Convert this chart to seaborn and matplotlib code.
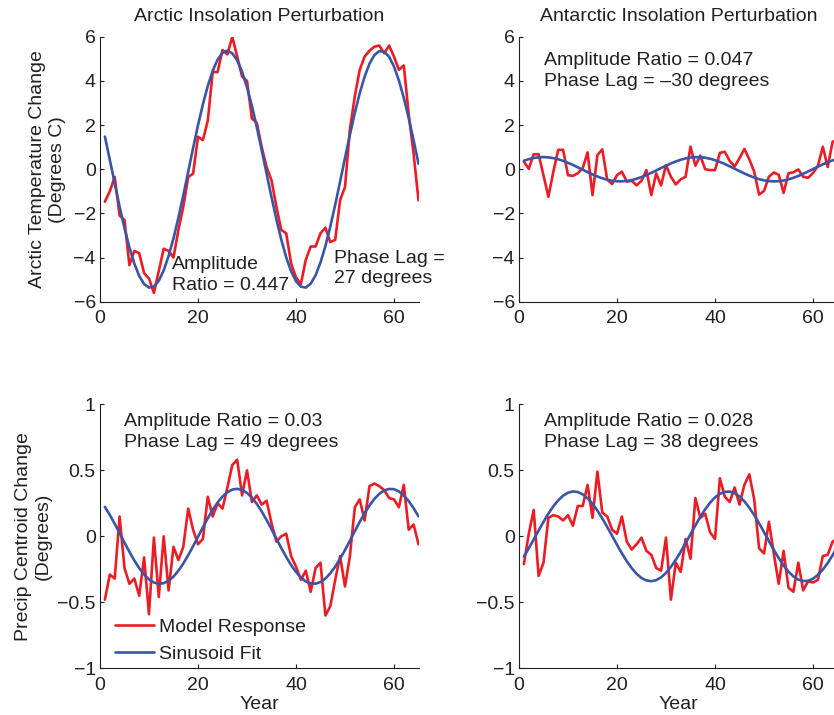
import pandas as pd
import seaborn as sns
import matplotlib
matplotlib.use("Agg")
import matplotlib.pyplot as plt

years = list(range(1, 66))

# red: model response, blue: sinusoid fit
arctic_temp_model = [-1.47, -1.0, -0.35, -2.1, -2.3, -4.34, -3.7, -3.8, -4.7, -4.95,
                     -5.6, -4.6, -3.6, -3.7, -4.0, -2.75, -1.7, -0.35, -0.2, 1.47,
                     1.32, 2.2, 4.4, 4.4, 5.4, 5.2, 6.0, 5.1, 4.2, 4.0,
                     2.3, 2.1, 1.0, 0.1, -0.5, -1.7, -2.75, -2.9, -4.26, -4.9,
                     -5.2, -4.1, -3.5, -3.5, -2.9, -2.65, -3.3, -3.2, -1.4, -0.8,
                     1.8, 3.3, 4.5, 5.1, 5.37, 5.55, 5.6, 5.25, 5.6, 5.1,
                     4.5, 4.7, 2.5, 0.7, -1.4]
arctic_temp_fit = [1.48, 0.43, -0.64, -1.69, -2.67, -3.54, -4.27, -4.83, -5.20, -5.36,
                   -5.31, -5.05, -4.58, -3.93, -3.13, -2.20, -1.18, -0.11, 0.96, 1.99,
                   2.94, 3.77, 4.46, 4.96, 5.27, 5.37, 5.25, 4.93, 4.41, 3.71,
                   2.87, 1.91, 0.87, -0.20, -1.26, -2.27, -3.19, -3.99, -4.62, -5.07,
                   -5.32, -5.36, -5.18, -4.80, -4.22, -3.48, -2.60, -1.61, -0.56, 0.51,
                   1.56, 2.55, 3.44, 4.19, 4.78, 5.17, 5.35, 5.33, 5.09, 4.65,
                   4.02, 3.23, 2.32, 1.31, 0.25]

antarctic_temp_model = [0.34, 0.02, 0.68, 0.68, -0.28, -1.25, -0.12, 0.88, 0.88, -0.27,
                        -0.30, -0.18, 0.05, 0.76, -1.17, 0.64, 0.9, -0.47, -0.67, -0.27,
                        -0.11, -0.56, -0.52, -0.73, -0.52, -0.04, -1.17, -0.19, -0.73, 0.19,
                        -0.34, -0.69, -0.46, -0.34, 1.02, 0.16, 0.62, 0.0, -0.04, -0.04,
                        0.74, 0.79, 0.38, 0.12, 0.5, 0.92, 0.45, -0.11, -1.15, -0.98,
                        -0.34, -0.15, -0.25, -1.07, -0.18, -0.14, -0.01, -0.34, -0.39, -0.17,
                        0.15, 1.02, 0.1, 1.25, 1.3]
antarctic_temp_fit = [0.387, 0.457, 0.509, 0.540, 0.550, 0.538, 0.504, 0.451, 0.379, 0.293,
                      0.194, 0.088, -0.022, -0.130, -0.234, -0.328, -0.409, -0.474, -0.520, -0.545,
                      -0.549, -0.530, -0.491, -0.432, -0.355, -0.265, -0.164, -0.056, 0.054, 0.161,
                      0.263, 0.353, 0.430, 0.490, 0.530, 0.549, 0.546, 0.521, 0.475, 0.411,
                      0.330, 0.236, 0.133, 0.024, -0.085, -0.192, -0.290, -0.377, -0.449, -0.503,
                      -0.537, -0.550, -0.541, -0.510, -0.458, -0.389, -0.304, -0.207, -0.101, 0.008,
                      0.117, 0.221, 0.317, 0.400, 0.467]

arctic_precip_model = [-0.48, -0.29, -0.32, 0.15, -0.24, -0.36, -0.32, -0.45, -0.16, -0.59,
                       -0.01, -0.46, 0.0, -0.41, -0.08, -0.18, -0.08, 0.21, 0.05, -0.06,
                       -0.02, 0.30, 0.15, 0.25, 0.21, 0.37, 0.54, 0.58, 0.31, 0.50,
                       0.26, 0.31, 0.24, 0.27, 0.10, -0.04, 0.0, 0.02, -0.15, -0.23,
                       -0.33, -0.26, -0.42, -0.24, -0.20, -0.60, -0.53, -0.33, -0.15, -0.38,
                       -0.15, 0.22, 0.28, 0.12, 0.38, 0.40, 0.38, 0.35, 0.29, 0.28,
                       0.22, 0.39, 0.05, 0.09, -0.06]
arctic_precip_fit = [0.223, 0.162, 0.095, 0.024, -0.048, -0.117, -0.183, -0.241, -0.289, -0.326,
                     -0.350, -0.360, -0.355, -0.337, -0.305, -0.261, -0.206, -0.143, -0.075, -0.003,
                     0.068, 0.137, 0.201, 0.256, 0.301, 0.334, 0.354, 0.360, 0.351, 0.329,
                     0.293, 0.246, 0.188, 0.124, 0.054, -0.018, -0.089, -0.156, -0.218, -0.270,
                     -0.312, -0.342, -0.357, -0.359, -0.346, -0.320, -0.280, -0.230, -0.170, -0.104,
                     -0.033, 0.039, 0.109, 0.175, 0.234, 0.284, 0.322, 0.348, 0.359, 0.357,
                     0.340, 0.309, 0.267, 0.213, 0.151]

antarctic_precip_model = [-0.21, 0.02, 0.20, -0.30, -0.20, 0.14, 0.16, 0.15, 0.12, 0.16,
                          0.08, 0.23, 0.23, 0.39, 0.14, 0.49, 0.18, 0.15, 0.05, 0.02,
                          0.15, -0.04, -0.10, -0.06, -0.01, -0.11, -0.14, -0.24, -0.26, -0.01,
                          -0.48, -0.20, -0.27, -0.02, -0.17, 0.29, 0.14, 0.17, 0.03, -0.02,
                          0.44, 0.30, 0.26, 0.37, 0.24, 0.39, 0.47, 0.28, -0.09, -0.13,
                          0.11, -0.13, -0.36, -0.11, -0.39, -0.42, -0.20, -0.41, -0.34, -0.35,
                          -0.33, -0.15, -0.14, -0.04, -0.02]
antarctic_precip_fit = [-0.154, -0.090, -0.024, 0.044, 0.110, 0.172, 0.227, 0.273, 0.308, 0.330,
                        0.340, 0.336, 0.318, 0.288, 0.246, 0.195, 0.136, 0.071, 0.004, -0.064,
                        -0.129, -0.189, -0.241, -0.284, -0.316, -0.334, -0.340, -0.332, -0.311, -0.277,
                        -0.232, -0.178, -0.117, -0.052, 0.016, 0.083, 0.147, 0.205, 0.255, 0.295,
                        0.322, 0.337, 0.339, 0.327, 0.302, 0.265, 0.217, 0.161, 0.099, 0.032,
                        -0.036, -0.102, -0.165, -0.221, -0.268, -0.304, -0.328, -0.339, -0.337, -0.321,
                        -0.292, -0.252, -0.202, -0.143, -0.079]

titles = ["Arctic Insolation Perturbation", "Antarctic Insolation Perturbation", "", ""]
ylabels = ["Arctic Temperature Change\n(Degrees C)", "", "Precip Centroid Change\n(Degrees)", ""]
notes = ["Amplitude\nRatio = 0.447", "Amplitude Ratio = 0.047\nPhase Lag = \u201330 degrees",
         "Amplitude Ratio = 0.03\nPhase Lag = 49 degrees", "Amplitude Ratio = 0.028\nPhase Lag = 38 degrees"]
lag_note = "Phase Lag =\n27 degrees"
temp_ticks = [-6, -4, -2, 0, 2, 4, 6]
temp_ticklabels = ["\u22126", "\u22124", "\u22122", "0", "2", "4", "6"]
precip_ticks = [-1, -0.5, 0, 0.5, 1]
precip_ticklabels = ["\u22121", "\u22120.5", "0", "0.5", "1"]
year_ticks = [0, 20, 40, 60]

RED = "#EC1C24"
BLUE = "#3A55A6"
INK = "#231F20"

sns.set_theme(style="ticks")
plt.rcParams["font.family"] = ["Liberation Sans", "DejaVu Sans"]
plt.rcParams["font.size"] = 14
plt.rcParams["text.color"] = INK
plt.rcParams["axes.labelcolor"] = INK

fig = plt.figure(figsize=(8.34, 7.15), dpi=100)
positions = [[0.1199, 0.578, 0.3819, 0.3706], [0.6223, 0.578, 0.3819, 0.3706],
             [0.1199, 0.0653, 0.3819, 0.3692], [0.6223, 0.0653, 0.3819, 0.3692]]
models = [arctic_temp_model, antarctic_temp_model, arctic_precip_model, antarctic_precip_model]
fits = [arctic_temp_fit, antarctic_temp_fit, arctic_precip_fit, antarctic_precip_fit]

for i in range(4):
    ax = fig.add_axes(positions[i])
    df = pd.DataFrame({"year": years, "model": models[i], "fit": fits[i]})
    sns.lineplot(data=df, x="year", y="model", ax=ax, color=RED, lw=1.9, label="Model Response")
    sns.lineplot(data=df, x="year", y="fit", ax=ax, color=BLUE, lw=1.9, label="Sinusoid Fit")
    ax.set_xlim(0, 65)
    ax.set_xticks(year_ticks)
    if i < 2:
        ax.set_ylim(-6, 6)
        ax.set_yticks(temp_ticks, temp_ticklabels)
        ax.set_xlabel("")
    else:
        ax.set_ylim(-1, 1)
        ax.set_yticks(precip_ticks, precip_ticklabels)
        ax.set_xlabel("Year", fontsize=14, labelpad=2)
    ax.set_ylabel(ylabels[i], fontsize=14)
    if i == 0:
        ax.yaxis.set_label_coords(-0.107, 0.5)
    if i == 2:
        ax.yaxis.set_label_coords(-0.151, 0.5)
    ax.set_title(titles[i], fontsize=14, pad=11, color=INK)
    sns.despine(ax=ax)
    for s in ["left", "bottom"]:
        ax.spines[s].set_color(INK)
        ax.spines[s].set_linewidth(0.8)
    ax.tick_params(direction="in", length=3, width=0.8, color=INK, labelsize=14,
                   labelcolor=INK)
    ax.tick_params(axis="x", pad=6)
    ax.tick_params(axis="y", pad=3)
    if i == 2:
        ax.legend(loc="upper left", bbox_to_anchor=(0.047, 0.19), frameon=False,
                  borderpad=0, borderaxespad=0, handlelength=2.0, handletextpad=0.26,
                  labelspacing=0.5, fontsize=14)
    else:
        ax.get_legend().remove()
    if i == 0:
        ax.text(14.75, -4.79, notes[0], ha="left", va="center", fontsize=14, linespacing=1.25)
        ax.text(47.8, -4.51, lag_note, ha="left", va="center", fontsize=14, linespacing=1.25)
    elif i == 1:
        ax.text(5.16, 4.46, notes[1], ha="left", va="center", fontsize=14, linespacing=1.3)
    else:
        ax.text(5.0 if i == 2 else 5.16, 0.792, notes[i], ha="left", va="center", fontsize=14,
                linespacing=1.3)

fig.savefig("out.png", dpi=100)
